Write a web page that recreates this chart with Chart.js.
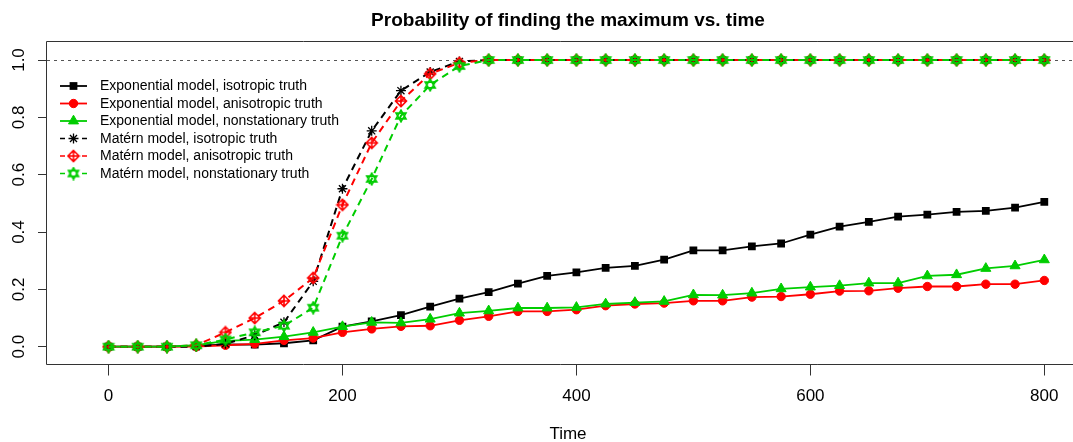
<!DOCTYPE html>
<html lang="en">
<head>
<meta charset="UTF-8">
<title>Probability of finding the maximum vs. time</title>
<script src="https://cdn.jsdelivr.net/npm/chart.js@4.4.1/dist/chart.umd.min.js"></script>
<style>
  html, body { margin: 0; padding: 0; background: #fff; overflow: hidden; }
  #wrap { width: 1073px; height: 442px; }
</style>
</head>
<body>
<div id="wrap"><canvas id="probChart" width="1073" height="442"></canvas></div>
<script>
// time steps (x) and the six curves
const times = [0, 25, 50, 75, 100, 125, 150, 175, 200, 225, 250, 275, 300, 325, 350, 375, 400,
               425, 450, 475, 500, 525, 550, 575, 600, 625, 650, 675, 700, 725, 750, 775, 800];

const expIso = [0, 0, 0, 0.003, 0.008, 0.007, 0.012, 0.022, 0.07, 0.088, 0.11, 0.14, 0.168, 0.19, 0.22, 0.247, 0.259,
                0.275, 0.282, 0.304, 0.336, 0.336, 0.35, 0.36, 0.391, 0.419, 0.435, 0.454, 0.461, 0.47, 0.474, 0.485, 0.505];
const expAniso = [0, 0, 0, 0, 0.005, 0.01, 0.022, 0.03, 0.05, 0.062, 0.071, 0.073, 0.092, 0.106, 0.123, 0.123, 0.129,
                  0.143, 0.149, 0.152, 0.16, 0.16, 0.173, 0.175, 0.183, 0.194, 0.195, 0.204, 0.21, 0.21, 0.218, 0.218, 0.231];
const expNonstat = [0, 0, 0, 0.005, 0.02, 0.025, 0.035, 0.05, 0.07, 0.085, 0.083, 0.096, 0.117, 0.125, 0.135, 0.135, 0.137,
                    0.149, 0.154, 0.158, 0.181, 0.18, 0.187, 0.202, 0.208, 0.213, 0.222, 0.222, 0.247, 0.251, 0.273, 0.282, 0.303];
const maternIso = [0, 0, 0, 0, 0.01, 0.04, 0.085, 0.228, 0.551, 0.753, 0.893, 0.958, 0.995, 1, 1, 1, 1,
                   1, 1, 1, 1, 1, 1, 1, 1, 1, 1, 1, 1, 1, 1, 1, 1];
const maternAniso = [0, 0, 0, 0.005, 0.05, 0.1, 0.16, 0.24, 0.495, 0.711, 0.857, 0.952, 0.99, 1, 1, 1, 1,
                     1, 1, 1, 1, 1, 1, 1, 1, 1, 1, 1, 1, 1, 1, 1, 1];
const maternNonstat = [0, 0, 0, 0.005, 0.025, 0.05, 0.073, 0.136, 0.387, 0.585, 0.805, 0.913, 0.979, 1, 1, 1, 1,
                       1, 1, 1, 1, 1, 1, 1, 1, 1, 1, 1, 1, 1, 1, 1, 1];

const seriesNames = [
    'Exponential model, isotropic truth',
    'Exponential model, anisotropic truth',
    'Exponential model, nonstationary truth',
    'Matérn model, isotropic truth',
    'Matérn model, anisotropic truth',
    'Matérn model, nonstationary truth'
];
const xTicks = [0, 200, 400, 600, 800];
const yTicks = [0, 0.2, 0.4, 0.6, 0.8, 1.0];
const refLevel = 1;
const chartTitle = 'Probability of finding the maximum vs. time';
const xTitle = 'Time';

const BLACK = '#000000';
const RED = '#FF0000';
const GREEN = '#00CD00';
const FONT = '"Liberation Sans", Arial, Helvetica, sans-serif';

Chart.defaults.font.family = FONT;
Chart.defaults.color = '#000';

// small canvases for the R symbols Chart.js does not have (pch 9 and pch 11)
function makeMarker(size, draw) {
    const c = document.createElement('canvas');
    c.width = size;
    c.height = size;
    const g = c.getContext('2d');
    g.translate(size / 2, size / 2);
    draw(g);
    return c;
}
const diamondPlus = makeMarker(14, g => {
    const r = 5.5;
    g.strokeStyle = RED;
    g.lineWidth = 1.6;
    g.beginPath();
    g.moveTo(0, -r); g.lineTo(r, 0); g.lineTo(0, r); g.lineTo(-r, 0); g.closePath();
    g.moveTo(0, -r); g.lineTo(0, r);
    g.moveTo(-r, 0); g.lineTo(r, 0);
    g.stroke();
});
const starDavid = makeMarker(14, g => {
    const r = 5.8;
    g.strokeStyle = GREEN;
    g.lineWidth = 1.6;
    g.beginPath();
    for (const s of [1, -1]) {
        g.moveTo(0, -s * r);
        g.lineTo(r * 0.866, s * r * 0.5);
        g.lineTo(-r * 0.866, s * r * 0.5);
        g.closePath();
    }
    g.stroke();
});

function toPoints(arr) {
    return arr.map((v, i) => ({ x: times[i], y: v }));
}

const datasets = [
    { label: seriesNames[0], data: toPoints(expIso), borderColor: BLACK, backgroundColor: BLACK,
      borderWidth: 1.8, pointStyle: 'rect', pointRadius: 5.5, pointBorderWidth: 0 },
    { label: seriesNames[1], data: toPoints(expAniso), borderColor: RED, backgroundColor: RED,
      borderWidth: 1.8, pointStyle: 'circle', pointRadius: 4.2, pointBorderWidth: 1 },
    { label: seriesNames[2], data: toPoints(expNonstat), borderColor: GREEN, backgroundColor: GREEN,
      borderWidth: 1.8, pointStyle: 'triangle', pointRadius: 5.8, pointBorderWidth: 1 },
    { label: seriesNames[3], data: toPoints(maternIso), borderColor: BLACK, backgroundColor: BLACK,
      borderWidth: 2, borderDash: [7, 5], pointStyle: 'star', pointRadius: 5, pointBorderWidth: 1.3 },
    { label: seriesNames[4], data: toPoints(maternAniso), borderColor: RED, backgroundColor: RED,
      borderWidth: 2, borderDash: [7, 5], pointStyle: diamondPlus, pointRadius: 6 },
    { label: seriesNames[5], data: toPoints(maternNonstat), borderColor: GREEN, backgroundColor: GREEN,
      borderWidth: 2, borderDash: [7, 5], pointStyle: starDavid, pointRadius: 6 }
];
// later series are drawn on top, as in R
datasets.forEach((ds, i) => {
    ds.order = datasets.length - 1 - i;
    ds.fill = false;
    ds.tension = 0;
    ds.pointBackgroundColor = ds.backgroundColor;
    ds.pointBorderColor = ds.borderColor;
});

// box, dotted reference line, rotated y labels, titles and legend (R base-graphics look)
const rDecor = {
    id: 'rDecor',
    beforeDatasetsDraw(chart) {
        const { ctx, chartArea } = chart;
        const y = chart.scales.y.getPixelForValue(refLevel);
        ctx.save();
        ctx.strokeStyle = '#555';
        ctx.lineWidth = 1;
        ctx.setLineDash([3, 4]);
        ctx.beginPath();
        ctx.moveTo(chartArea.left, Math.round(y) + 0.5);
        ctx.lineTo(chartArea.right, Math.round(y) + 0.5);
        ctx.stroke();
        ctx.restore();
    },
    afterDraw(chart) {
        const { ctx, chartArea } = chart;
        const yScale = chart.scales.y;
        ctx.save();

        // plot box (right side lies outside the picture)
        ctx.strokeStyle = '#333';
        ctx.lineWidth = 1;
        ctx.beginPath();
        ctx.moveTo(chartArea.right + 2, chartArea.top - 0.5);
        ctx.lineTo(chartArea.left - 0.5, chartArea.top - 0.5);
        ctx.lineTo(chartArea.left - 0.5, chartArea.bottom);
        ctx.lineTo(chartArea.right + 2, chartArea.bottom);
        ctx.stroke();

        // y tick labels, vertical
        ctx.fillStyle = '#000';
        ctx.font = '17px ' + FONT;
        ctx.textAlign = 'center';
        ctx.textBaseline = 'middle';
        yTicks.forEach(v => {
            ctx.save();
            ctx.translate(19, yScale.getPixelForValue(v));
            ctx.rotate(-Math.PI / 2);
            ctx.fillText(v.toFixed(1), 0, 0);
            ctx.restore();
        });

        // title and x axis title, centred on the R plot region
        const mid = 568;
        ctx.font = 'bold 19px ' + FONT;
        ctx.fillText(chartTitle, mid, 21);
        ctx.font = '17px ' + FONT;
        ctx.fillText(xTitle, mid, 434);

        // legend
        ctx.font = '14px ' + FONT;
        ctx.textAlign = 'left';
        const x0 = 60, x1 = 87, xm = 73.5, xt = 100;
        chart.data.datasets.forEach((ds, i) => {
            const y = 86 + i * 17.5;
            ctx.strokeStyle = ds.borderColor;
            ctx.lineWidth = ds.borderDash ? 1.5 : ds.borderWidth;
            if (ds.borderDash) {
                ctx.setLineDash([5, 17]);
            }
            ctx.beginPath();
            ctx.moveTo(x0, y);
            ctx.lineTo(x1, y);
            ctx.stroke();
            ctx.setLineDash([]);
            ctx.fillStyle = ds.backgroundColor;
            ctx.lineWidth = ds.pointBorderWidth || 1;
            Chart.helpers.drawPoint(ctx, {
                pointStyle: ds.pointStyle,
                radius: ds.pointRadius,
                rotation: 0,
                borderWidth: ds.pointBorderWidth || 0
            }, xm, y);
            ctx.fillStyle = '#000';
            ctx.fillText(ds.label, xt, y + 0.5);
        });
        ctx.restore();
    }
};

new Chart(document.getElementById('probChart'), {
    type: 'line',
    data: { datasets },
    options: {
        responsive: false,
        animation: false,
        layout: { autoPadding: false, padding: { top: 42, left: 0, right: 0, bottom: 0 } },
        plugins: {
            legend: { display: false },
            title: { display: false },
            tooltip: { enabled: false }
        },
        scales: {
            x: {
                type: 'linear',
                min: -52.58,
                max: 824.53,
                afterBuildTicks: scale => { scale.ticks = xTicks.map(v => ({ value: v })); },
                afterFit: scale => {
                    scale.height = 77.5;
                    scale.paddingLeft = 0;
                    scale.paddingRight = 0;
                },
                border: { display: false },
                grid: { drawOnChartArea: false, drawTicks: true, tickLength: 11, color: '#333', lineWidth: 1 },
                ticks: { font: { size: 17 }, color: '#000', padding: 11, maxRotation: 0 }
            },
            y: {
                type: 'linear',
                min: -0.0621,
                max: 1.0628,
                afterBuildTicks: scale => { scale.ticks = yTicks.map(v => ({ value: v })); },
                afterFit: scale => {
                    scale.width = 47;
                    scale.paddingTop = 0;
                    scale.paddingBottom = 0;
                },
                border: { display: false },
                grid: { drawOnChartArea: false, drawTicks: true, tickLength: 9, color: '#333', lineWidth: 1 },
                ticks: { display: false }
            }
        }
    },
    plugins: [rDecor]
});
</script>
</body>
</html>
